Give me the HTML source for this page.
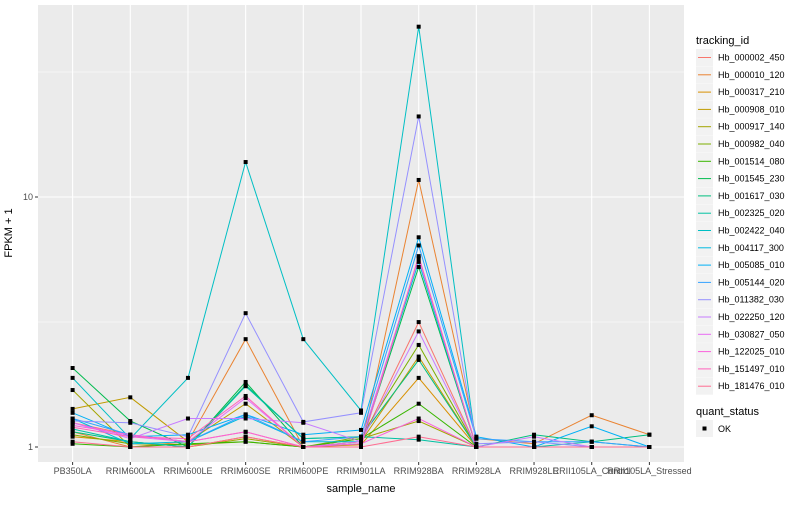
<!DOCTYPE html>
<html><head><meta charset="utf-8"><style>
body{margin:0;background:#fff;font-family:"Liberation Sans",sans-serif}
svg text{font-family:"Liberation Sans",sans-serif}
</style></head><body>
<svg id="chart" width="800" height="500" xmlns="http://www.w3.org/2000/svg">
<rect x="0" y="0" width="800" height="500" fill="#fff"/>
<rect x="38" y="5" width="646" height="457" fill="#EBEBEB"/>
<g id="grid"></g><g id="lines"></g><g id="points"></g><g id="axes"></g><g id="legend"></g>
<text x="12" y="233" transform="rotate(-90 12 233)" text-anchor="middle" font-size="11" fill="#000">FPKM + 1</text>
<text x="361" y="492" text-anchor="middle" font-size="11" fill="#000">sample_name</text>
</svg>
<script>
const categories = ["PB350LA","RRIM600LA","RRIM600LE","RRIM600SE","RRIM600PE","RRIM901LA","RRIM928BA","RRIM928LA","RRIM928LE","RRII105LA_Control","RRII105LA_Stressed"];
const seriesNames = ["Hb_000002_450","Hb_000010_120","Hb_000317_210","Hb_000908_010","Hb_000917_140","Hb_000982_040","Hb_001514_080","Hb_001545_230","Hb_001617_030","Hb_002325_020","Hb_002422_040","Hb_004117_300","Hb_005085_010","Hb_005144_020","Hb_011382_030","Hb_022250_120","Hb_030827_050","Hb_122025_010","Hb_151497_010","Hb_181476_010"];
const seriesColors = ["#F8766D","#EA8331","#D89000","#C09B00","#A3A500","#7CAE00","#39B600","#00BB4E","#00BF7D","#00C1A3","#00BFC4","#00BAE0","#00B0F6","#35A2FF","#9590FF","#C77CFF","#E76BF3","#FA62DB","#FF62BC","#FF6C91"];
const s00 = [1.25,1.12,1.05,1.15,1.0,1.05,3.16,1.0,1.0,1.0,1.0];
const s01 = [1.15,1.0,1.05,2.7,1.0,1.0,11.7,1.08,1.03,1.34,1.12];
const s02 = [1.1,1.05,1.0,1.1,1.0,1.02,1.89,1.0,1.0,1.0,1.0];
const s03 = [1.42,1.58,1.05,1.49,1.0,1.05,2.3,1.0,1.0,1.0,1.0];
const s04 = [1.69,1.0,1.0,1.08,1.0,1.08,1.27,1.0,1.0,1.0,1.0];
const s05 = [1.12,1.03,1.02,1.05,1.0,1.1,2.56,1.0,1.0,1.0,1.0];
const s06 = [1.03,1.0,1.03,1.05,1.0,1.08,1.49,1.0,1.0,1.0,1.0];
const s07 = [2.07,1.27,1.0,1.82,1.0,1.03,5.25,1.0,1.0,1.0,1.0];
const s08 = [1.15,1.05,1.0,1.77,1.08,1.1,2.23,1.0,1.12,1.05,1.12];
const s09 = [1.18,1.05,1.0,1.75,1.08,1.1,1.07,1.0,1.0,1.05,1.0];
const s10 = [1.89,1.08,1.89,13.8,2.7,1.4,48,1.0,1.0,1.0,1.0];
const s11 = [1.3,1.03,1.05,1.33,1.05,1.05,5.5,1.0,1.0,1.0,1.0];
const s12 = [1.37,1.1,1.12,1.35,1.12,1.17,6.9,1.1,1.0,1.21,1.0];
const s13 = [1.3,1.12,1.05,1.35,1.05,1.1,6.4,1.08,1.05,1.05,1.0];
const s14 = [1.27,1.25,1.1,3.43,1.26,1.37,21,1.03,1.05,1.0,1.0];
const s15 = [1.25,1.08,1.3,1.3,1.25,1.05,2.9,1.0,1.1,1.0,1.0];
const s16 = [1.25,1.1,1.05,1.57,1.0,1.05,5.7,1.0,1.0,1.0,1.0];
const s17 = [1.22,1.12,1.05,1.15,1.0,1.03,1.3,1.0,1.0,1.0,1.0];
const s18 = [1.2,1.1,1.08,1.6,1.0,1.0,5.8,1.0,1.0,1.0,1.0];
const s19 = [1.05,1.0,1.0,1.1,1.0,1.0,1.1,1.0,1.0,1.0,1.0];
const seriesValues = [s00,s01,s02,s03,s04,s05,s06,s07,s08,s09,s10,s11,s12,s13,s14,s15,s16,s17,s18,s19];
const yTickValues = [1,10];
const yTickLabels = ["1","10"];
const yMinorValues = [Math.sqrt(10),Math.sqrt(1000)];

const NS="http://www.w3.org/2000/svg";
const px0=38, px1=684, py0=5, py1=462;
const n=categories.length, step=(px1-px0)/(n-1+1.2);
function xScale(i){return px0+(0.6+i)*step;}
function yScale(v){return 447-250*Math.log10(v);}
function mk(tag,attrs,parent){const e=document.createElementNS(NS,tag);for(const k in attrs)e.setAttribute(k,attrs[k]);parent.appendChild(e);return e;}
const grid=document.getElementById('grid'), lines=document.getElementById('lines'), pts=document.getElementById('points'), axes=document.getElementById('axes'), leg=document.getElementById('legend');
yMinorValues.forEach(v=>{const l=mk('line',{x1:px0,x2:px1,y1:yScale(v),y2:yScale(v),stroke:'#fff','stroke-width':0.55},grid);

});
yTickValues.forEach((v,i)=>{const y=yScale(v);
const l=mk('line',{x1:px0,x2:px1,y1:y,y2:y,stroke:'#fff','stroke-width':1.1},grid);


const t=mk('line',{x1:px0-3,x2:px0,y1:y,y2:y,stroke:'#333','stroke-width':1},axes);


const tx=mk('text',{x:px0-5,y:y+3,'text-anchor':'end','font-size':9,fill:'#4D4D4D'},axes);tx.textContent=yTickLabels[i];

});
categories.forEach((c,i)=>{const x=xScale(i);
const l=mk('line',{x1:x,x2:x,y1:py0,y2:py1,stroke:'#fff','stroke-width':1.1},grid);


const t=mk('line',{x1:x,x2:x,y1:py1,y2:py1+3,stroke:'#333','stroke-width':1},axes);


const tx=mk('text',{x:x,y:py1+12,'text-anchor':'middle','font-size':9,fill:'#4D4D4D'},axes);tx.textContent=c;

});
seriesValues.forEach((vals,s)=>{const d=vals.map((v,i)=>(i?'L':'M')+xScale(i).toFixed(1)+','+yScale(v).toFixed(1)).join(' ');
const p=mk('path',{d:d,fill:'none',stroke:seriesColors[s],'stroke-width':1},lines);


vals.forEach((v,i)=>{const r=mk('rect',{x:xScale(i)-2,y:yScale(v)-2,width:4,height:4,fill:'#000'},pts);

});});
// legend
const lt=mk('text',{x:696,y:44,'font-size':11,fill:'#000'},leg);lt.textContent='tracking_id';


seriesNames.forEach((nm,s)=>{const y=49+s*17.3;
const g=mk('g',{},leg);


mk('rect',{x:696,y:y,width:17,height:17,fill:'#F2F2F2'},g);
mk('line',{x1:698,x2:711,y1:y+8.5,y2:y+8.5,stroke:seriesColors[s],'stroke-width':1},g);
const t=mk('text',{x:718,y:y+11.5,'font-size':9,fill:'#000'},g);t.textContent=nm;});
const qt=mk('text',{x:696,y:415,'font-size':11,fill:'#000'},leg);qt.textContent='quant_status';


const qg=mk('g',{},leg);


mk('rect',{x:696,y:420,width:17,height:17,fill:'#F2F2F2'},qg);
mk('rect',{x:702.5,y:426.5,width:4,height:4,fill:'#000'},qg);
const ok=mk('text',{x:718,y:432,'font-size':9,fill:'#000'},qg);ok.textContent='OK';
</script>
</body></html>
